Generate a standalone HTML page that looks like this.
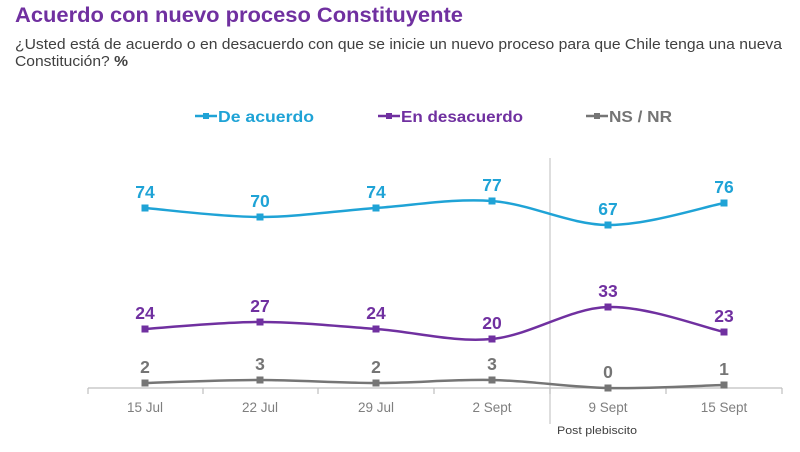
<!DOCTYPE html>
<html><head><meta charset="utf-8"><style>
html,body{margin:0;padding:0;background:#fff;width:800px;height:452px;overflow:hidden;font-family:"Liberation Sans",sans-serif}
</style></head><body>
<svg id="s" width="800" height="452" xmlns="http://www.w3.org/2000/svg" font-family="Liberation Sans, sans-serif">
<text x="15" y="22" font-size="21" font-weight="bold" fill="#7030a0" textLength="448" lengthAdjust="spacingAndGlyphs">Acuerdo con nuevo proceso Constituyente</text>
<text x="15" y="49" font-size="14.5" fill="#404040" textLength="767" lengthAdjust="spacingAndGlyphs">¿Usted está de acuerdo o en desacuerdo con que se inicie un nuevo proceso para que Chile tenga una nueva</text>
<text x="15" y="66" font-size="14.5" fill="#404040" textLength="113" lengthAdjust="spacingAndGlyphs">Constitución? <tspan font-weight="bold">%</tspan></text>
<g font-size="16" font-weight="bold">
<line x1="195" y1="116" x2="217" y2="116" stroke="#1fa3d6" stroke-width="2.5"/><rect x="203" y="113" width="6" height="6" fill="#1fa3d6"/>
<text x="218" y="122" fill="#1fa3d6" textLength="96" lengthAdjust="spacingAndGlyphs">De acuerdo</text>
<line x1="378" y1="116" x2="400" y2="116" stroke="#7030a0" stroke-width="2.5"/><rect x="386" y="113" width="6" height="6" fill="#7030a0"/>
<text x="401" y="122" fill="#7030a0" textLength="122" lengthAdjust="spacingAndGlyphs">En desacuerdo</text>
<line x1="586" y1="116" x2="608" y2="116" stroke="#757575" stroke-width="2.5"/><rect x="594" y="113" width="6" height="6" fill="#757575"/>
<text x="609" y="122" fill="#757575" textLength="63" lengthAdjust="spacingAndGlyphs">NS / NR</text>
</g>
<line x1="550" y1="158" x2="550" y2="424" stroke="#c8c8c8" stroke-width="1.2"/>
<line x1="88" y1="388" x2="782" y2="388" stroke="#bfbfbf" stroke-width="1.2"/>
<g stroke="#bfbfbf" stroke-width="1.2" id="ticks"></g>
<g font-size="13.5" fill="#7f7f7f" text-anchor="middle">
<text x="145" y="412">15 Jul</text><text x="260" y="412">22 Jul</text><text x="376" y="412">29 Jul</text>
<text x="492" y="412">2 Sept</text><text x="608" y="412">9 Sept</text><text x="724" y="412">15 Sept</text>
</g>
<text x="557" y="434" font-size="11" fill="#404040" textLength="80" lengthAdjust="spacingAndGlyphs">Post plebiscito</text>
<g id="series"></g>
</svg>
<script>
var NS="http://www.w3.org/2000/svg";
var xs=[145,260,376,492,608,724];
var tk=document.getElementById("ticks");
[88,203,318,434,550,666,782].forEach(function(x){var l=document.createElementNS(NS,"line");l.setAttribute("x1",x);l.setAttribute("x2",x);l.setAttribute("y1",388);l.setAttribute("y2",394);tk.appendChild(l);});
var S=[
{c:"#1fa3d6",y:[208,217,208,201,225,203],v:[74,70,74,77,67,76]},
{c:"#7030a0",y:[329,322,329,339,307,332],v:[24,27,24,20,33,23]},
{c:"#757575",y:[383,380,383,380,388,385],v:[2,3,2,3,0,1]}];
var g=document.getElementById("series");
S.forEach(function(s){
 var p=xs.map(function(x,i){return [x,s.y[i]]});
 var d="M"+p[0][0]+","+p[0][1];
 for(var i=0;i<p.length-1;i++){
  var p0=p[Math.max(i-1,0)],p1=p[i],p2=p[i+1],p3=p[Math.min(i+2,p.length-1)];
  var c1=[p1[0]+(p2[0]-p0[0])/6,p1[1]+(p2[1]-p0[1])/6],c2=[p2[0]-(p3[0]-p1[0])/6,p2[1]-(p3[1]-p1[1])/6];
  d+=" C"+c1+" "+c2+" "+p2;
 }
 var path=document.createElementNS(NS,"path");path.setAttribute("d",d);path.setAttribute("fill","none");path.setAttribute("stroke",s.c);path.setAttribute("stroke-width","2.5");g.appendChild(path);
 p.forEach(function(q,i){
  var r=document.createElementNS(NS,"rect");r.setAttribute("x",q[0]-3.5);r.setAttribute("y",q[1]-3.5);r.setAttribute("width",7);r.setAttribute("height",7);r.setAttribute("fill",s.c);g.appendChild(r);
  var t=document.createElementNS(NS,"text");t.setAttribute("x",q[0]);t.setAttribute("y",q[1]-10);t.setAttribute("text-anchor","middle");t.setAttribute("font-size","17.5");t.setAttribute("font-weight","bold");t.setAttribute("fill",s.c);t.textContent=s.v[i];g.appendChild(t);
 });
});
</script>
</body></html>
